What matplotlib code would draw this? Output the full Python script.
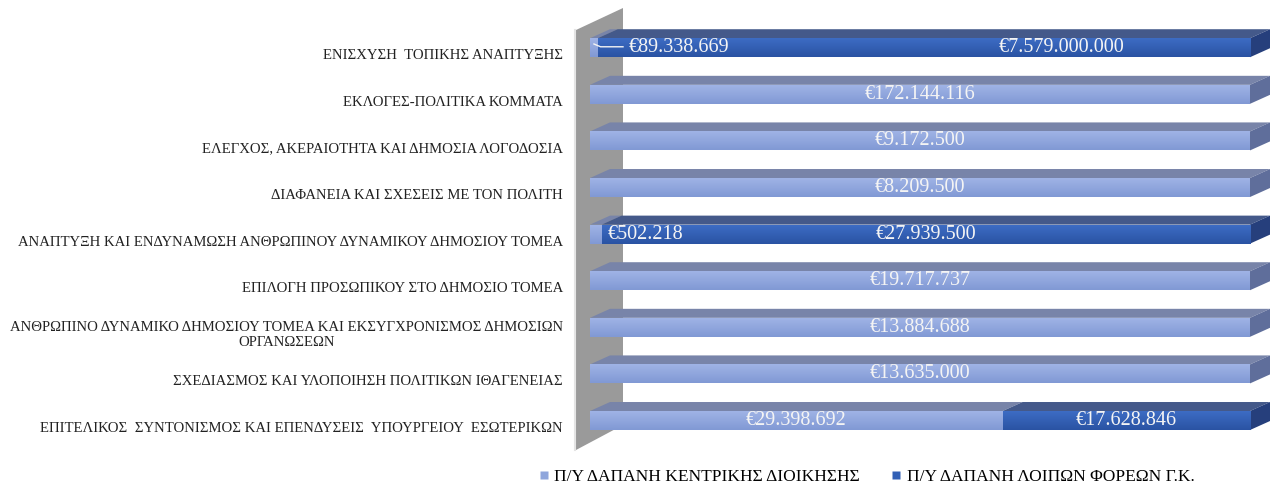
# Π/Υ δαπάνη ανά πρόγραμμα – 100% stacked οριζόντιες μπάρες με ψευδο-3D
import numpy as np
import matplotlib.pyplot as plt
from matplotlib.patches import Polygon
from matplotlib.lines import Line2D
from matplotlib.colors import LinearSegmentedColormap

plt.rcParams['font.family'] = ['Liberation Serif', 'DejaVu Serif']

# ------------------------------------------------------------
# δεδομένα (από κάτω προς τα πάνω)
# ------------------------------------------------------------
categories = [
    'ΕΠΙΤΕΛΙΚΟΣ  ΣΥΝΤΟΝΙΣΜΟΣ ΚΑΙ ΕΠΕΝΔΥΣΕΙΣ  ΥΠΟΥΡΓΕΙΟΥ  ΕΣΩΤΕΡΙΚΩΝ',
    'ΣΧΕΔΙΑΣΜΟΣ ΚΑΙ ΥΛΟΠΟΙΗΣΗ ΠΟΛΙΤΙΚΩΝ ΙΘΑΓΕΝΕΙΑΣ',
    'ΑΝΘΡΩΠΙΝΟ ΔΥΝΑΜΙΚΟ ΔΗΜΟΣΙΟΥ ΤΟΜΕΑ ΚΑΙ ΕΚΣΥΓΧΡΟΝΙΣΜΟΣ ΔΗΜΟΣΙΩΝ\nΟΡΓΑΝΩΣΕΩΝ',
    'ΕΠΙΛΟΓΗ ΠΡΟΣΩΠΙΚΟΥ ΣΤΟ ΔΗΜΟΣΙΟ ΤΟΜΕΑ',
    'ΑΝΑΠΤΥΞΗ ΚΑΙ ΕΝΔΥΝΑΜΩΣΗ ΑΝΘΡΩΠΙΝΟΥ ΔΥΝΑΜΙΚΟΥ ΔΗΜΟΣΙΟΥ ΤΟΜΕΑ',
    'ΔΙΑΦΑΝΕΙΑ ΚΑΙ ΣΧΕΣΕΙΣ ΜΕ ΤΟΝ ΠΟΛΙΤΗ',
    'ΕΛΕΓΧΟΣ, ΑΚΕΡΑΙΟΤΗΤΑ ΚΑΙ ΔΗΜΟΣΙΑ ΛΟΓΟΔΟΣΙΑ',
    'ΕΚΛΟΓΕΣ-ΠΟΛΙΤΙΚΑ ΚΟΜΜΑΤΑ',
    'ΕΝΙΣΧΥΣΗ  ΤΟΠΙΚΗΣ ΑΝΑΠΤΥΞΗΣ',
]
central = [29398692, 13635000, 13884688, 19717737, 502218,
           8209500, 9172500, 172144116, 89338669]
other = [17628846, 0, 0, 0, 27939500, 0, 0, 0, 7579000000]

series_names = ['Π/Υ ΔΑΠΑΝΗ ΚΕΝΤΡΙΚΗΣ ΔΙΟΙΚΗΣΗΣ', 'Π/Υ ΔΑΠΑΝΗ ΛΟΙΠΩΝ ΦΟΡΕΩΝ Γ.Κ.']

# ------------------------------------------------------------
# χρώματα (μπροστά / πάνω / πλάι / gradient πάνω-κάτω)
# ------------------------------------------------------------
light = ('#8fa6dc', '#7884a9', '#5f6e9b', ('#9fb3e6', '#8199d4'))
dark = ('#3260b6', '#44598a', '#263f7c', ('#3d6cc4', '#2a53a3'))


def euro(v):
    return '€' + f'{v:,}'.replace(',', '.')


# ------------------------------------------------------------
# figure / axes (γεωμετρία σε pixel)
# ------------------------------------------------------------
W, H = 1279, 488
fig = plt.figure(figsize=(W / 100, H / 100), dpi=100)
fig.patch.set_facecolor('white')

ax = fig.add_axes([590 / W, 1 - 455 / H, 660 / W, 442 / H])
y0, y1 = -0.74, 8.745

ux = 100 / 660          # data units per pixel (x)
uy = (y1 - y0) / 442    # data units per pixel (y)
DX, DY = 20 * ux, 9 * uy
h = 19 * uy


def px(xp, yp):
    # pixel εικόνας -> data
    return ((xp - 590) * ux, y0 + (455 - yp) * uy)


# γκρι τοίχωμα
wall = Polygon([px(576, 30), px(623, 8), px(623, 425), px(576, 450)],
               closed=True, facecolor='#9a9a9a', edgecolor='none',
               clip_on=False, zorder=0)
ax.add_patch(wall)
ax.plot(*zip(px(575, 30), px(575, 450)), color='#e4e4e4', lw=1.5,
        clip_on=False, zorder=0)

grad = np.linspace(0, 1, 32).reshape(-1, 1)

# ------------------------------------------------------------
# μπάρες
# ------------------------------------------------------------
for i in range(len(categories)):
    total = central[i] + other[i]
    p1 = central[i] / total * 100
    p2 = other[i] / total * 100
    segs = [(0, p1, light), (p1, p2, dark)]
    for left, w, col in segs:
        if w <= 0:
            continue
        ax.barh(i, w, left=left, height=h, color=col[0], zorder=2)
        # απαλό gradient στην μπροστινή όψη
        cmap = LinearSegmentedColormap.from_list('g', [col[3][1], col[3][0]])
        ax.imshow(grad, cmap=cmap, aspect='auto', origin='lower',
                  extent=(left, left + w, i - h / 2, i + h / 2),
                  interpolation='bilinear', zorder=2.5)
        top = i + h / 2
        ax.add_patch(Polygon([(left, top), (left + w, top),
                              (left + w + DX, top + DY), (left + DX, top + DY)],
                             closed=True, facecolor=col[1], edgecolor='none',
                             zorder=1, clip_on=False))
    # πλαϊνή όψη δεξιά
    endcol = dark if p2 > 0 else light
    ax.add_patch(Polygon([(100, i - h / 2), (100, i + h / 2),
                          (100 + DX, i + h / 2 + DY), (100 + DX, i - h / 2 + DY)],
                         closed=True, facecolor=endcol[2], edgecolor='none',
                         zorder=1, clip_on=False))

    # ετικέτες τιμών
    tkw = dict(color='#f4f4f4', fontsize=14.5, va='center', zorder=5)
    if p1 > 5:
        ax.text(p1 / 2, i, euro(central[i]), ha='center', **tkw)
    elif p1 > 0:
        lx = 5.8 if i == 8 else 2.7
        ax.text(lx, i, euro(central[i]), ha='left', **tkw)
        if i == 8:
            ax.plot([0.6, 1.6, 5.0], [i + 0.08, i + 0.02, i + 0.02],
                    color='#f4f4f4', lw=1, zorder=5)
    if p2 > 0:
        cx = p1 + p2 / 2
        if i == 8:
            cx = 71.5
        ax.text(cx, i, euro(other[i]), ha='center', **tkw)

    # ετικέτα κατηγορίας
    ax.text(px(563, 0)[0], i - 0.17, categories[i], ha='right', va='center',
            multialignment='center', fontsize=10.6, color='#222222',
            linespacing=1.15, clip_on=False)

ax.set_xlim(0, 100)
ax.set_ylim(y0, y1)
ax.axis('off')

# ------------------------------------------------------------
# υπόμνημα
# ------------------------------------------------------------
handles = [Line2D([], [], ls='none', marker='s', markersize=6,
                  markerfacecolor=c[0], markeredgecolor='none')
           for c in (light, dark)]
fig.legend(handles, series_names, loc='center left',
           bbox_to_anchor=(523 / W, 1 - 477 / H), ncol=2, frameon=False,
           fontsize=12.5, handlelength=0.6, handletextpad=0.3,
           columnspacing=1.8)

plt.savefig('out.png', dpi=100)
